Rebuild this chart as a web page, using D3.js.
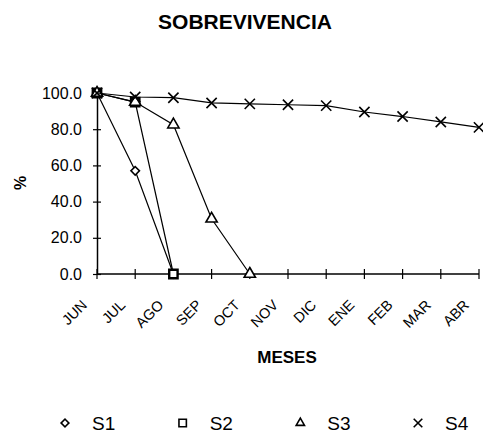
<!DOCTYPE html>
<html>
<head>
<meta charset="utf-8">
<script src="https://cdn.jsdelivr.net/npm/d3@7"></script>
<style>
  body { margin: 0; background: white; }
  text { font-family: Arial, "Liberation Sans", sans-serif; fill: black; }
</style>
</head>
<body>
<div id="viz-container"></div>
<script>
let w = 483;
let h = 433;

// data
let meses = ["JUN", "JUL", "AGO", "SEP", "OCT", "NOV", "DIC", "ENE", "FEB", "MAR", "ABR"];
let s1 = [100, 57, 0];
let s2 = [100, 95, 0];
let s3 = [100, 95, 82.5, 30.5, 0];
let s4 = [100, 97.8, 97.4, 94.5, 94, 93.5, 93, 89.5, 87, 84, 81];
let yTicks = [0, 20, 40, 60, 80, 100];
let seriesNames = ["S1", "S2", "S3", "S4"];

let viz = d3.select("#viz-container")
  .append("svg")
    .attr("width", w)
    .attr("height", h)
    .style("background-color", "white");

let x = d3.scalePoint().domain(meses).range([97, 479]);
let y = d3.scaleLinear().domain([0, 100]).range([274, 93]);

// title
viz.append("text")
  .attr("x", 245).attr("y", 29)
  .attr("text-anchor", "middle")
  .style("font-size", "21px").style("font-weight", "bold")
  .text("SOBREVIVENCIA");

// y axis
let yAxis = d3.axisLeft(y).tickValues(yTicks).tickFormat(d3.format(".1f")).tickSize(0).tickPadding(15);
let yg = viz.append("g").attr("transform", "translate(" + x("JUN") + ",0)").call(yAxis);
yg.select(".domain").attr("stroke", "black").attr("stroke-width", 1.5);
yg.selectAll("text").style("font-size", "16px").style("font-family", "Arial, 'Liberation Sans', sans-serif");
yg.selectAll(".tick").append("line")
  .attr("x1", -4).attr("x2", 4)
  .attr("stroke", "black").attr("stroke-width", 1.2);

// x axis
let xg = viz.append("g").attr("transform", "translate(0," + y(0) + ")");
xg.append("line")
  .attr("x1", x("JUN")).attr("x2", x("ABR"))
  .attr("stroke", "black").attr("stroke-width", 1.5);
let xt = xg.selectAll(".xtick").data(meses).enter()
  .append("g")
    .attr("class", "xtick")
    .attr("transform", d => "translate(" + x(d) + ",0)");
xt.append("line")
  .attr("y1", -5).attr("y2", 5)
  .attr("stroke", "black").attr("stroke-width", 1.2);
xt.append("text")
  .attr("text-anchor", "end")
  .attr("transform", "translate(-9,32) rotate(-45)")
  .style("font-size", "14.5px")
  .text(d => d);

// axis titles
viz.append("text")
  .attr("transform", "translate(26,183) rotate(-90)")
  .attr("text-anchor", "middle")
  .style("font-size", "16px").style("font-weight", "bold")
  .text("%");

viz.append("text")
  .attr("x", 287).attr("y", 363)
  .attr("text-anchor", "middle")
  .style("font-size", "17px").style("font-weight", "bold")
  .text("MESES");

// series
let series = [
  { name: "S1", values: s1, symbol: d3.symbolSquare, size: 36, rot: 45, leg: 30 },
  { name: "S2", values: s2, symbol: d3.symbolSquare, size: 70, rot: 0, leg: 55 },
  { name: "S3", values: s3, symbol: d3.symbolTriangle, size: 55, rot: 0, leg: 30 },
  { name: "S4", values: s4, symbol: d3.symbolX, size: 70, rot: 0, leg: 50 }
];

let line = d3.line()
  .x((d, i) => x(meses[i]))
  .y(d => y(d));

let groups = viz.selectAll(".serie").data(series).enter()
  .append("g").attr("class", "serie");

groups.append("path")
  .attr("d", d => line(d.values))
  .attr("fill", "none")
  .attr("stroke", "black")
  .attr("stroke-width", 1.2);

groups.each(function(s) {
  d3.select(this).selectAll(".pt").data(s.values).enter()
    .append("path")
      .attr("class", "pt")
      .attr("transform", (d, i) => "translate(" + x(meses[i]) + "," + y(d) + ") rotate(" + s.rot + ")")
      .attr("d", d3.symbol().type(s.symbol).size(s.size))
      .attr("fill", "white")
      .attr("stroke", "black")
      .attr("stroke-width", s.name == "S2" ? 2.4 : 1.6);
});

// legend
let legendX = d3.scalePoint().domain(seriesNames).range([65, 418]);
let lg = viz.selectAll(".leg").data(series).enter()
  .append("g")
    .attr("class", "leg")
    .attr("transform", d => "translate(" + legendX(d.name) + ",423) rotate(" + d.rot + ")");
lg.append("path")
  .attr("d", d => d3.symbol().type(d.symbol).size(d.leg)())
  .attr("fill", "white")
  .attr("stroke", "black")
  .attr("stroke-width", 1.6);
viz.selectAll(".legtext").data(series).enter()
  .append("text")
    .attr("class", "legtext")
    .attr("x", d => legendX(d.name) + 27).attr("y", 430)
    .style("font-size", "19px")
    .text(d => d.name);
</script>
</body>
</html>
